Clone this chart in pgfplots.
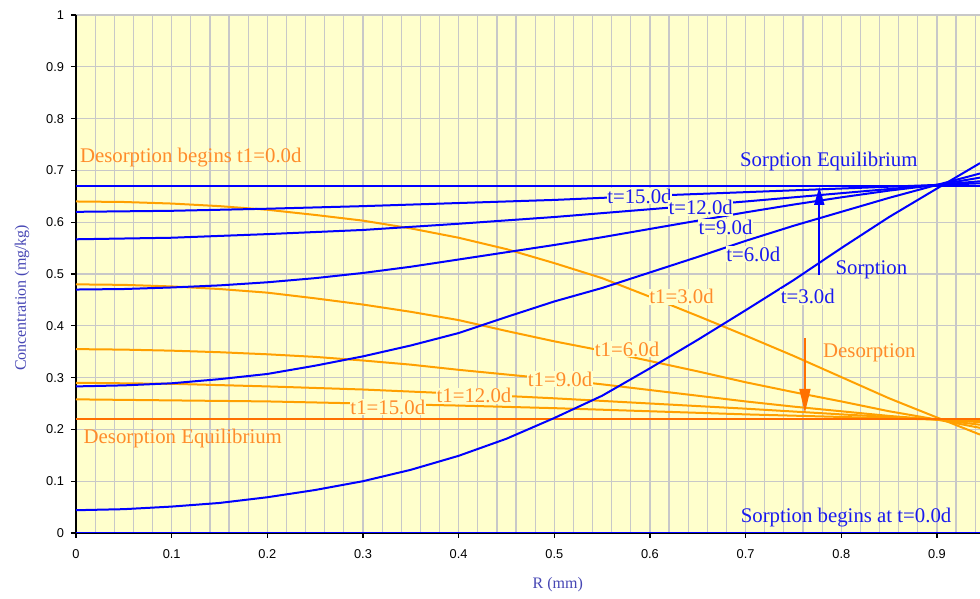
\documentclass[border=0pt]{standalone}
\usepackage{fontspec}
\setmainfont{Liberation Serif}
\newfontfamily\arialf{Liberation Sans}
\usepackage{pgfplots}
\pgfplotsset{compat=1.18}
\usetikzlibrary{arrows.meta}
\definecolor{bgy}{HTML}{FFFFCC}
\definecolor{gridc}{HTML}{C8C8C8}
\definecolor{sblue}{HTML}{0000FF}
\definecolor{tblue}{HTML}{1A1AF0}
\definecolor{dorange}{HTML}{FFA000}
\definecolor{deq}{HTML}{FF7000}
\definecolor{torange}{HTML}{FF8C2A}
\definecolor{labc}{HTML}{4646B4}
\begin{document}
\begin{tikzpicture}
\path[use as bounding box] (-38pt,-33pt) rectangle (452pt,266.5pt);
\begin{axis}[
  at={(0,0)}, anchor=south west,
  scale only axis, width=452pt, height=259pt,
  xmin=0, xmax=0.945, ymin=0, ymax=1,
  axis background/.style={fill=bgy},
  xtick={0,0.1,0.2,0.3,0.4,0.5,0.6,0.7,0.8,0.9},
  minor xtick={0.02,0.04,0.06,0.08,0.12,0.14,0.16,0.18,0.22,0.24,0.26,0.28,0.32,0.34,0.36,0.38,0.42,0.44,0.46,0.48,0.52,0.54,0.56,0.58,0.62,0.64,0.66,0.68,0.72,0.74,0.76,0.78,0.82,0.84,0.86,0.88,0.92,0.94},
  ytick={0,0.1,0.2,0.3,0.4,0.5,0.6,0.7,0.8,0.9,1},
  grid=both,
  major grid style={gridc, line width=0.6pt},
  minor grid style={gridc, line width=0.6pt},
  axis x line*=bottom, axis y line*=left,
  axis line style={black, line width=0.75pt},
  tick align=outside, major tick length=2.5pt, minor tick length=0pt,
  tick style={black, line width=0.6pt},
  /pgf/number format/assume math mode=true,
  ticklabel style={font=\arialf\fontsize{6.4}{7.5}\selectfont},
  xticklabel style={yshift=-2pt},
  xlabel={R (mm)}, ylabel={Concentration (mg/kg)},
  label style={font=\fontsize{8}{9.5}\selectfont, text=labc},
  xlabel style={at={(axis description cs:0.533,-0.100)}, anchor=center},
  ylabel style={at={(axis description cs:-0.0597,0.454)}, anchor=center},
  clip=true,
]
% desorption curves (orange)
\addplot[dorange, line width=1pt] coordinates {(0,0.67)(0.945,0.67)};
\addplot[dorange, line width=1pt] coordinates {(0,0.640)(0.05,0.639)(0.1,0.636)(0.15,0.631)(0.2,0.624)(0.25,0.614)(0.3,0.603)(0.35,0.588)(0.4,0.570)(0.45,0.548)(0.5,0.521)(0.55,0.492)(0.6,0.456)(0.65,0.419)(0.7,0.381)(0.75,0.342)(0.8,0.301)(0.85,0.260)(0.9,0.223)(0.945,0.190)};
\addplot[dorange, line width=1pt] coordinates {(0,0.480)(0.05,0.479)(0.1,0.476)(0.15,0.471)(0.2,0.464)(0.25,0.453)(0.3,0.441)(0.35,0.427)(0.4,0.411)(0.45,0.390)(0.5,0.370)(0.55,0.352)(0.6,0.332)(0.65,0.312)(0.7,0.291)(0.75,0.272)(0.8,0.254)(0.85,0.235)(0.9,0.219)(0.945,0.203)};
\addplot[dorange, line width=1pt] coordinates {(0,0.355)(0.05,0.354)(0.1,0.352)(0.15,0.349)(0.2,0.345)(0.25,0.340)(0.3,0.333)(0.35,0.325)(0.4,0.315)(0.45,0.306)(0.5,0.297)(0.55,0.287)(0.6,0.276)(0.65,0.265)(0.7,0.254)(0.75,0.244)(0.8,0.235)(0.85,0.226)(0.9,0.219)(0.945,0.209)};
\addplot[dorange, line width=1pt] coordinates {(0,0.290)(0.1,0.288)(0.2,0.283)(0.3,0.277)(0.4,0.269)(0.5,0.260)(0.6,0.250)(0.7,0.240)(0.8,0.229)(0.9,0.219)(0.945,0.214)};
\addplot[dorange, line width=1pt] coordinates {(0,0.258)(0.1,0.256)(0.2,0.254)(0.3,0.250)(0.4,0.246)(0.5,0.241)(0.6,0.235)(0.7,0.229)(0.8,0.224)(0.9,0.219)(0.945,0.217)};
\addplot[deq, line width=1pt] coordinates {(0,0.22)(0.945,0.22)};
% sorption curves (blue)
\addplot[sblue, line width=1pt] coordinates {(0,0.044)(0.05,0.046)(0.1,0.051)(0.15,0.058)(0.2,0.069)(0.25,0.083)(0.3,0.100)(0.35,0.122)(0.4,0.149)(0.45,0.182)(0.5,0.222)(0.55,0.265)(0.6,0.318)(0.65,0.373)(0.7,0.430)(0.75,0.488)(0.8,0.550)(0.85,0.610)(0.9,0.665)(0.945,0.714)};
\addplot[sblue, line width=1pt] coordinates {(0,0.283)(0.05,0.285)(0.1,0.289)(0.15,0.297)(0.2,0.307)(0.25,0.323)(0.3,0.341)(0.35,0.362)(0.4,0.386)(0.45,0.417)(0.5,0.447)(0.55,0.473)(0.6,0.503)(0.65,0.533)(0.7,0.564)(0.75,0.593)(0.8,0.620)(0.85,0.647)(0.9,0.672)(0.945,0.694)};
\addplot[sblue, line width=1pt] coordinates {(0,0.470)(0.05,0.471)(0.1,0.474)(0.15,0.478)(0.2,0.484)(0.25,0.492)(0.3,0.502)(0.35,0.514)(0.4,0.528)(0.45,0.542)(0.5,0.556)(0.55,0.571)(0.6,0.587)(0.65,0.603)(0.7,0.619)(0.75,0.634)(0.8,0.648)(0.85,0.661)(0.9,0.672)(0.945,0.686)};
\addplot[sblue, line width=1pt] coordinates {(0,0.567)(0.1,0.570)(0.2,0.577)(0.3,0.585)(0.4,0.597)(0.5,0.610)(0.6,0.625)(0.7,0.640)(0.8,0.656)(0.9,0.672)(0.945,0.679)};
\addplot[sblue, line width=1pt] coordinates {(0,0.620)(0.1,0.622)(0.2,0.626)(0.3,0.631)(0.4,0.637)(0.5,0.643)(0.6,0.651)(0.7,0.658)(0.8,0.665)(0.9,0.672)(0.945,0.675)};
\addplot[sblue, line width=1pt] coordinates {(0,0.67)(0.945,0.67)};
\addplot[sblue, line width=1.2pt] coordinates {(0,0)(0.945,0)};
% arrows
\addplot[sblue, line width=0.9pt, -{Triangle[length=9pt,width=5pt]}] coordinates {(0.777,0.498)(0.777,0.668)};
\addplot[deq, line width=0.9pt, -{Triangle[length=12pt,width=5.5pt]}] coordinates {(0.762,0.376)(0.762,0.232)};
% labels
\begin{scope}[every node/.style={font=\fontsize{10.4}{12}\selectfont, inner sep=0.3pt}]
\node[text=tblue, fill=bgy] at (axis cs:0.589,0.650) {t=15.0d};
\node[text=tblue, fill=bgy] at (axis cs:0.653,0.628) {t=12.0d};
\node[text=tblue, fill=bgy] at (axis cs:0.679,0.590) {t=9.0d};
\node[text=tblue, fill=bgy] at (axis cs:0.708,0.538) {t=6.0d};
\node[text=tblue, fill=bgy] at (axis cs:0.765,0.456) {t=3.0d};
\node[text=torange, fill=bgy] at (axis cs:0.633,0.456) {t1=3.0d};
\node[text=torange, fill=bgy] at (axis cs:0.576,0.355) {t1=6.0d};
\node[text=torange, fill=bgy] at (axis cs:0.506,0.297) {t1=9.0d};
\node[text=torange, fill=bgy] at (axis cs:0.416,0.265) {t1=12.0d};
\node[text=torange, fill=bgy] at (axis cs:0.326,0.243) {t1=15.0d};
\node[text=tblue] at (axis cs:0.787,0.718) {Sorption Equilibrium};
\node[text=tblue] at (axis cs:0.805,0.029) {Sorption begins at t=0.0d};
\node[text=torange] at (axis cs:0.120,0.724) {Desorption begins t1=0.0d};
\node[text=torange, anchor=west] at (axis cs:0.007,0.183) {Desorption Equilibrium};
\node[text=tblue, anchor=west] at (axis cs:0.793,0.508) {Sorption};
\node[text=torange, anchor=west] at (axis cs:0.780,0.347) {Desorption};
\end{scope}
\end{axis}
\end{tikzpicture}
\end{document}
